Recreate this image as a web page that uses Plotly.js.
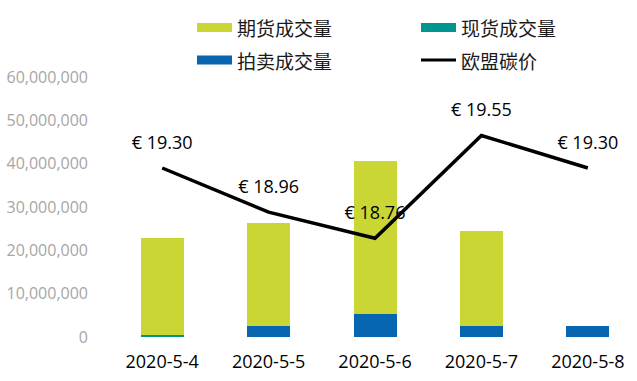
<!DOCTYPE html>
<html>
<head>
<meta charset="utf-8">
<script src="https://cdn.plot.ly/plotly-3.0.1.min.js"></script>
<style>html,body{margin:0;padding:0;background:#fff;}#chart{width:637px;height:381px;}</style>
</head>
<body>
<div id="chart"></div>
<script>
// Data
var dates = ["2020-5-4", "2020-5-5", "2020-5-6", "2020-5-7", "2020-5-8"];
var futuresVol = [22400000, 23800000, 35200000, 22000000, 0];
var spotVol = [500000, 0, 0, 0, 0];
var auctionVol = [0, 2600000, 5400000, 2500000, 2500000];
var euCarbonPrice = [19.30, 18.96, 18.76, 19.55, 19.30];
var seriesNames = ["期货成交量", "现货成交量", "拍卖成交量", "欧盟碳价"];
var yTickVals = [0, 10000000, 20000000, 30000000, 40000000, 50000000, 60000000];
var yTickText = ["0", "10,000,000", "20,000,000", "30,000,000", "40,000,000", "50,000,000", "60,000,000"];

var colors = ["#C9D634", "#00958F", "#0866B0", "#000000"];

var W = 637, H = 381, ML = 109, MR = 0, MT = 77, MB = 44;
var PW = W - ML - MR, PH = H - MT - MB;
function px(x) { return (x - ML) / PW; }
function py(y) { return (H - MB - y) / PH; }

var traces = [
  {type: "bar", x: dates, y: auctionVol, name: seriesNames[2], marker: {color: colors[2]}, hoverinfo: "none"},
  {type: "bar", x: dates, y: spotVol, name: seriesNames[1], marker: {color: colors[1]}, hoverinfo: "none"},
  {type: "bar", x: dates, y: futuresVol, name: seriesNames[0], marker: {color: colors[0]}, hoverinfo: "none"},
  {type: "scatter", mode: "lines+markers+text", x: dates, y: euCarbonPrice, yaxis: "y2", name: seriesNames[3],
   line: {color: colors[3], width: 3.5},
   marker: {size: 22, color: "rgba(0,0,0,0)"},
   texttemplate: "€ %{y:.2f}", textposition: "top center",
   textfont: {family: "Open Sans, sans-serif", size: 18, color: "#000"},
   hoverinfo: "none", cliponaxis: false}
];

// custom legend
var legendItems = [
  {name: seriesNames[0], color: colors[0], x: 197, y: 27.5, kind: "rect"},
  {name: seriesNames[1], color: colors[1], x: 421, y: 27.5, kind: "rect"},
  {name: seriesNames[2], color: colors[2], x: 197, y: 60, kind: "rect"},
  {name: seriesNames[3], color: colors[3], x: 421, y: 60, kind: "line"}
];
var shapes = [], annotations = [];
legendItems.forEach(function (it) {
  if (it.kind === "rect") {
    shapes.push({type: "rect", xref: "paper", yref: "paper", x0: px(it.x), x1: px(it.x + 35),
      y0: py(it.y - 4.5), y1: py(it.y + 4.5), fillcolor: it.color, line: {width: 0}});
  } else {
    shapes.push({type: "line", xref: "paper", yref: "paper", x0: px(it.x), x1: px(it.x + 35),
      y0: py(it.y), y1: py(it.y), line: {color: it.color, width: 3}});
  }
  annotations.push({xref: "paper", yref: "paper", x: px(it.x + 38), y: py(it.y), xanchor: "left", yanchor: "middle",
    text: it.name, showarrow: false, font: {family: "Noto Sans CJK SC, sans-serif", size: 19, color: "#1a1a1a"}});
});

var layout = {
  width: W, height: H,
  margin: {l: ML, r: MR, t: MT, b: MB, pad: 0},
  paper_bgcolor: "#fff", plot_bgcolor: "#fff",
  barmode: "stack", bargap: 0.596,
  showlegend: false,
  xaxis: {type: "category", range: [-0.5, 4.462], showgrid: false, zeroline: false, showline: false,
    ticks: "", tickfont: {family: "Open Sans, sans-serif", size: 18, color: "#000"}, ticklabelstandoff: 12, fixedrange: true},
  yaxis: {range: [0, 60000000], tickvals: yTickVals, ticktext: yTickText, showgrid: false, zeroline: false,
    showline: false, ticks: "", ticklabelstandoff: 20,
    tickfont: {family: "Open Sans, sans-serif", size: 16, color: "#A6A6A6"}, fixedrange: true},
  yaxis2: {overlaying: "y", side: "right", range: [18, 20], visible: false, showgrid: false, zeroline: false, fixedrange: true},
  shapes: shapes,
  annotations: annotations
};

Plotly.newPlot("chart", traces, layout, {staticPlot: true, displayModeBar: false});
</script>
</body>
</html>
